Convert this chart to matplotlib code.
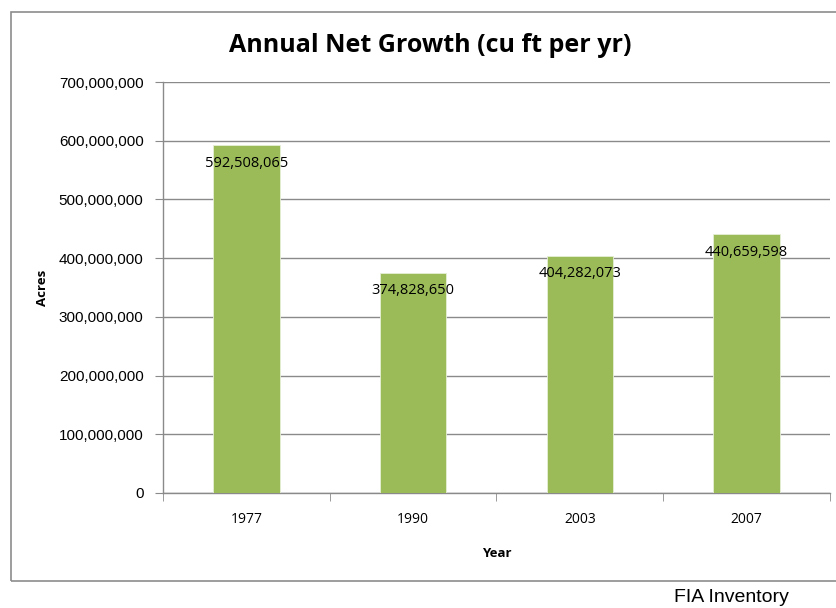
import matplotlib
matplotlib.use("Agg")
import matplotlib.pyplot as plt
from matplotlib.patches import Rectangle
from matplotlib.ticker import FuncFormatter

years = ["1977", "1990", "2003", "2007"]
growth = [592508065, 374828650, 404282073, 440659598]
yticks = [0, 100000000, 200000000, 300000000, 400000000, 500000000, 600000000, 700000000]

fig = plt.figure(figsize=(8.37, 6.08), dpi=100)
fig.patch.set_facecolor("white")

# outer chart frame
fig.patches.append(Rectangle((11/837, 1-581/608), 840/837, (581-12)/608,
                             transform=fig.transFigure, fill=False,
                             edgecolor="#8c8c8c", linewidth=1.2))

ax = fig.add_axes([163/837, 1-493/608, 667/837, 411/608])
x = list(range(len(years)))
ax.bar(x, growth, width=0.4, color="#9BBB59", edgecolor="#e6eed6", linewidth=0.6, zorder=3)
ax.set_xlim(-0.5, len(years)-0.5)
ax.set_ylim(0, 700000000)
ax.set_yticks(yticks)
ax.yaxis.set_major_formatter(FuncFormatter(lambda v, p: f"{int(v):,}"))
ax.grid(axis="y", color="#8a8a8a", linewidth=1.0, zorder=0)
ax.set_axisbelow(True)

for s in ["top", "right"]:
    ax.spines[s].set_visible(False)
for s in ["left", "bottom"]:
    ax.spines[s].set_color("#8a8a8a")
    ax.spines[s].set_linewidth(1.0)

ax.set_xticks(x)
ax.set_xticklabels(years, fontfamily="Open Sans", fontsize=10)
ax.tick_params(axis="x", length=0, pad=14)
ax.set_xticks([i - 0.5 for i in range(len(years)+1)], minor=True)
ax.tick_params(axis="x", which="minor", length=6, color="#8a8a8a", direction="out")
ax.tick_params(axis="y", length=6, color="#8a8a8a", pad=8, labelsize=11)
for lbl in ax.get_yticklabels():
    lbl.set_fontfamily("Liberation Sans")

for xi, v in zip(x, growth):
    ax.annotate(f"{v:,}", (xi, v), xytext=(0, -13), textcoords="offset points",
                ha="center", va="center", fontsize=10.5, fontfamily="Open Sans", zorder=4)

ax.set_xlabel("Year", fontfamily="Open Sans", fontweight="bold", fontsize=9.5, labelpad=14)
ax.set_ylabel("Acres", fontfamily="Open Sans", fontweight="bold", fontsize=9.5, labelpad=7)

fig.text(430/837, 1-45/608, "Annual Net Growth (cu ft per yr)", ha="center", va="center",
         fontfamily="Open Sans", fontweight="bold", fontsize=18)
fig.text(731/837, 1-598/608, "FIA Inventory", ha="center", va="center",
         fontfamily="Liberation Sans", fontsize=14)

fig.savefig("out.png", dpi=100)
